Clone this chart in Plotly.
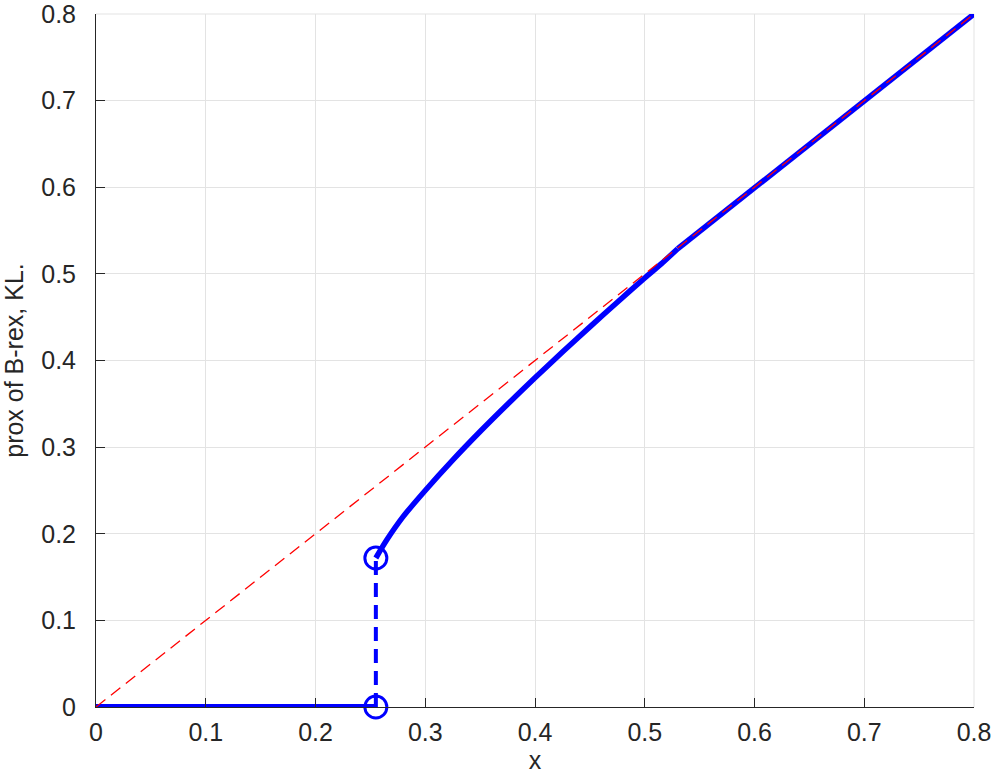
import plotly.graph_objects as go

# values
x_zero = [0.0, 0.255]
y_zero = [0.0, 0.0]

x_curve = [0.255, 0.265, 0.28, 0.3, 0.325, 0.35, 0.375, 0.4, 0.425,
           0.45, 0.475, 0.5, 0.515, 0.53]
y_curve = [0.172, 0.193, 0.220, 0.250, 0.285, 0.318, 0.3495, 0.380, 0.4098,
           0.4388, 0.4673, 0.4953, 0.5115, 0.529]

x_tail = [0.53, 0.8]
y_tail = [0.529, 0.8]

x_jump = [0.255, 0.255]
y_jump = [0.0, 0.172]

x_ident = [0.0, 0.8]
y_ident = [0.0, 0.8]

tick_vals = [0, 0.1, 0.2, 0.3, 0.4, 0.5, 0.6, 0.7, 0.8]
tick_text = ['0', '0.1', '0.2', '0.3', '0.4', '0.5', '0.6', '0.7', '0.8']

blue = '#0000ff'
grid = '#e3e3e3'
font = 'Liberation Sans, Arial'
fig = go.Figure()

fig.add_trace(go.Scatter(x=x_zero, y=y_zero, mode='lines',
                         line=dict(color=blue, width=6)))
fig.add_trace(go.Scatter(x=x_curve, y=y_curve, mode='lines',
                         line=dict(color=blue, width=5.5, shape='spline', smoothing=0.8)))
fig.add_trace(go.Scatter(x=x_tail, y=y_tail, mode='lines',
                         line=dict(color=blue, width=5.5)))
fig.add_trace(go.Scatter(x=x_jump, y=y_jump, mode='lines',
                         line=dict(color=blue, width=4, dash='14px,8px')))
fig.add_trace(go.Scatter(x=x_jump, y=y_jump, mode='markers', cliponaxis=False,
                         marker=dict(symbol='circle-open', size=22, color=blue,
                                     line=dict(color=blue, width=3))))
fig.add_trace(go.Scatter(x=x_ident, y=y_ident, mode='lines',
                         line=dict(color='#ff0000', width=1.3, dash='12px,7px')))

axis_style = dict(
    range=[0, 0.8],
    tickvals=tick_vals,
    ticktext=tick_text,
    showgrid=True,
    gridcolor=grid,
    gridwidth=1,
    zeroline=False,
    showline=True,
    linecolor='#262626',
    linewidth=1,
    ticks='inside',
    ticklen=9,
    tickcolor='#262626',
    automargin=False,
    ticklabeloverflow='allow',
    tickfont=dict(family=font, size=25, color='#262626'),
)

fig.update_xaxes(**axis_style, ticklabelstandoff=3,
                 title=dict(text='x', standoff=6,
                            font=dict(family=font, size=25, color='#262626')))
fig.update_yaxes(**axis_style, ticklabelstandoff=14,
                 title=dict(text='prox of B-rex, KL.', standoff=14,
                            font=dict(family=font, size=25, color='#262626')))

# grid lines on the far edges (plotly drops them at the range ends)
fig.add_shape(type='line', xref='x domain', yref='y domain', x0=1, x1=1, y0=0, y1=1,
              line=dict(color=grid, width=1), layer='below')
fig.add_shape(type='line', xref='x domain', yref='y domain', x0=0, x1=1, y0=1, y1=1,
              line=dict(color=grid, width=1), layer='below')

fig.update_layout(
    width=997, height=781,
    margin=dict(l=96, r=23, t=14, b=74),
    plot_bgcolor='white', paper_bgcolor='white',
    showlegend=False,
)

fig.write_html("out.html", config={'displayModeBar': False},
               post_script="document.body.style.margin='0';")
